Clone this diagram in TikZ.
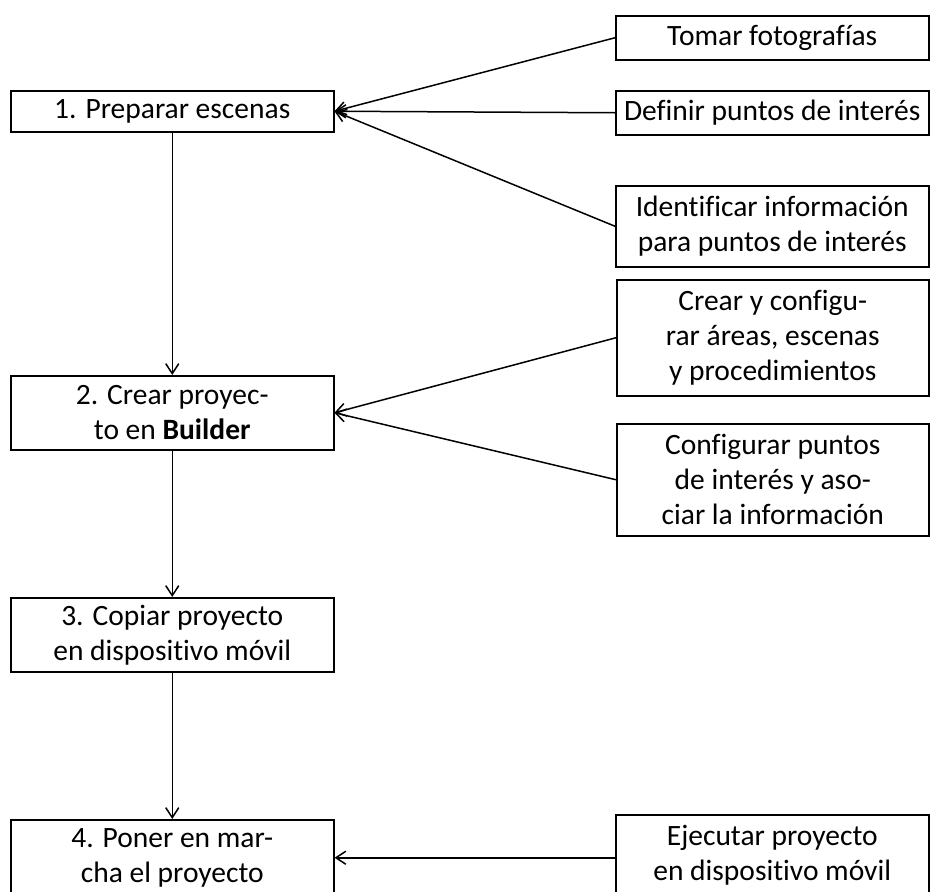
\documentclass[tikz,border=0pt]{standalone}
\usepackage{fontspec}
\setmainfont[Ligatures=CommonOff]{Carlito}
\usetikzlibrary{arrows.meta}
\begin{document}
\begin{tikzpicture}[x=1pt,y=-1pt,
  box/.style={draw,line width=1.5pt,rectangle,anchor=north west,align=center,inner sep=0pt,
    font=\fontsize{29.5}{35}\selectfont},
  arr/.style={line width=1.5pt,-{Straight Barb[length=10pt,width=13pt,line width=1.5pt]}}]
\clip (0,0) rectangle (930,892);
\fill[white] (0,0) rectangle (930,892);
% main column
\node[box,minimum width=323pt,minimum height=41pt] (b1) at (10,90) {1. Preparar escenas};
\node[box,minimum width=323pt,minimum height=74pt] (b2) at (10,375) {2. Crear proyec-\\to en \textbf{Builder}};
\node[box,minimum width=323pt,minimum height=74pt] (b3) at (10,597) {3. Copiar proyecto\\en dispositivo móvil};
\node[box,minimum width=323pt,minimum height=76pt] (b4) at (10,819) {4. Poner en mar-\\cha el proyecto};
% side column
\node[box,minimum width=313pt,minimum height=44pt] (t1) at (615,15) {Tomar fotografías};
\node[box,minimum width=313pt,minimum height=44pt] (t2) at (615,90) {Definir puntos de interés};
\node[box,minimum width=313pt,minimum height=81pt] (t3) at (615,185) {Identificar información\\para puntos de interés};
\node[box,minimum width=312pt,minimum height=116pt] (c1) at (616,279) {Crear y configu-\\rar áreas, escenas\\y procedimientos};
\node[box,minimum width=312pt,minimum height=112pt] (c2) at (616,423) {Configurar puntos\\de interés y aso-\\ciar la información};
\node[box,minimum width=313pt,minimum height=80pt] (e1) at (615,814) {Ejecutar proyecto\\en dispositivo móvil};
% connectors
\draw[arr] (b1.south) -- (b2.north);
\draw[arr] (b2.south) -- (b3.north);
\draw[arr] (b3.south) -- (b4.north);
\draw[arr] (t1.west) -- (b1.east);
\draw[arr] (t2.west) -- (b1.east);
\draw[arr] (t3.west) -- (b1.east);
\draw[arr] (c1.west) -- (b2.east);
\draw[arr] (c2.west) -- (b2.east);
\coordinate (e1w) at (e1.west |- b4.east);
\draw[arr] (e1w) -- (b4.east);
\end{tikzpicture}
\end{document}
